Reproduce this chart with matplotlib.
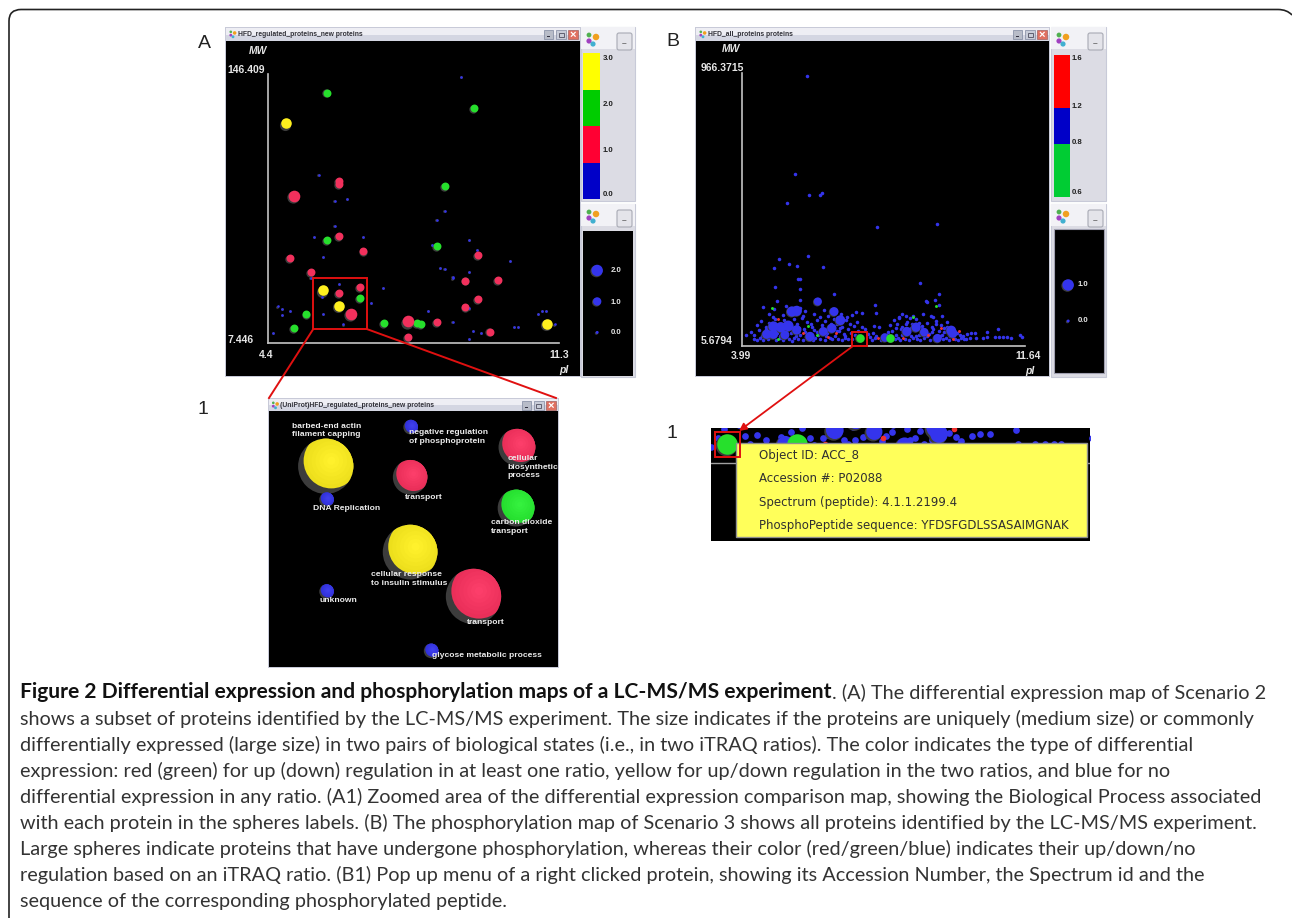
import numpy as np
import matplotlib
matplotlib.use("Agg")
import matplotlib.pyplot as plt
from matplotlib.patches import Rectangle, Circle, FancyBboxPatch, PathPatch
from matplotlib.path import Path
from matplotlib.transforms import offset_copy

W, H = 1292, 918
plt.rcParams["font.family"] = ["Liberation Sans", "DejaVu Sans"]

RED = "#f2305c"
GREEN = "#26e02c"
YELLOW = "#fff01e"
BLUE = "#3434ec"
SHADE = "#3c3c3c"

# panel A, pI and MW of each protein
a_blue_pi = [8.97, 5.59, 5.97, 6.26, 8.58, 8.39, 5.97, 5.49, 6.65, 9.16, 9.35, 8.29, 5.69, 10.13, 8.48,
             8.58, 9.16, 8.77, 8.77, 5.40, 6.07, 7.13, 5.68, 6.84, 4.62, 4.72, 4.91, 4.72, 5.69, 8.19,
             9.16, 10.80, 10.89, 10.99, 8.77, 6.17, 11.19, 10.22, 10.32, 9.26, 9.45, 4.52, 9.16]
a_blue_mw = [144.8, 94.2, 80.7, 81.9, 75.5, 71.1, 67.8, 62.3, 62.1, 60.4, 55.4, 58.1, 51.9, 49.9, 46.2,
             45.7, 44.2, 41.6, 40.7, 40.9, 38.0, 35.7, 31.2, 28.1, 26.2, 25.0, 23.8, 21.9, 22.4, 23.7,
             25.2, 22.4, 23.7, 23.7, 18.0, 16.9, 16.9, 15.7, 15.7, 13.5, 12.6, 12.3, 9.3]
a_green_pi = [5.78, 9.27, 8.59, 5.78, 8.39, 6.56, 5.30, 7.13, 7.92, 8.01, 5.01]
a_green_mw = [136.7, 128.5, 88.3, 60.4, 57.1, 30.4, 22.3, 17.6, 17.6, 16.8, 14.9]
a_red_pi = [6.07, 6.07, 6.07, 6.65, 4.91, 5.40, 6.56, 6.07, 9.36, 9.07, 9.84, 9.36, 9.07, 8.39, 9.65, 7.71]
a_red_mw = [90.8, 89.2, 62.4, 54.9, 50.9, 43.8, 36.1, 33.1, 52.6, 39.5, 39.9, 29.7, 25.7, 18.0, 13.1, 10.4]
a_redbig_pi = [5.01, 6.36, 7.71]
a_redbig_mw = [83.1, 22.1, 18.3]
a_yellow_pi = [4.82, 5.69, 6.07, 11.01]
a_yellow_mw = [120.7, 34.3, 26.2, 17.1]

# panel B
b_top_pi = [5.75, 5.42, 5.79, 6.15, 6.08, 5.21, 7.63, 9.25, 5.78, 4.99, 5.26, 5.46, 4.84, 6.17, 5.51, 5.54,
            8.81, 4.88, 5.54, 9.31, 6.48, 8.97, 8.99, 9.21, 4.93, 5.56, 9.32, 7.58, 7.61, 4.56]
b_top_mw = [956.9, 610.5, 538.9, 544.7, 536.5, 510.7, 426.1, 436.7, 323.9, 312.2, 295.8, 286.4, 281.7, 284.0,
            242.9, 240.6, 228.8, 213.5, 206.5, 187.7, 187.7, 164.2, 161.8, 166.6, 165.4, 167.7, 151.3, 151.3,
            120.8, 144.3]
b_low_pi = [4.31, 4.39, 4.47, 4.55, 4.68, 4.74, 4.90, 5.02, 5.10, 5.25, 5.33, 5.40, 5.50, 5.62, 5.71, 5.90, 5.97,
            6.08, 6.22, 6.35, 6.43, 6.58, 6.70, 6.78, 6.86, 6.97, 7.44, 7.50, 7.58, 7.75, 8.11, 8.20, 8.26, 8.38,
            8.50, 8.60, 8.73, 8.80, 8.90, 9.08, 9.18, 9.42, 9.50, 9.57, 9.75, 9.83, 9.92, 9.98, 10.03]
b_low_mw = [32, 28, 35, 27, 30, 36, 26, 33, 28, 31, 25, 34, 29, 27, 36, 28, 33, 30, 26, 35, 29, 32, 27, 34, 29, 31,
            36, 28, 33, 26, 30, 34, 27, 32, 28, 35, 30, 26, 33, 28, 32, 29, 35, 27, 31, 26, 34, 29, 32]
b_mid_pi = [4.10, 4.22, 4.30, 4.44, 4.60, 4.76, 4.95, 5.08, 5.16, 5.32, 5.55, 5.68, 5.85, 5.92, 6.05, 6.12, 6.28,
            6.50, 6.60, 6.74, 6.84, 6.92, 7.05, 7.12, 7.30, 7.38, 7.52, 7.62, 7.80, 7.92, 8.05, 8.15, 8.28, 8.36,
            8.55, 8.66, 8.78, 8.95, 9.05, 9.14, 9.30, 9.40, 9.46, 9.60, 9.80, 9.88, 9.95, 10.08]
b_mid_mw = [46, 54, 43, 62, 50, 58, 65, 48, 60, 52, 45, 56, 48, 62, 44, 58, 50, 42, 60, 48, 66, 52, 44, 58, 64, 47,
            50, 42, 46, 54, 60, 44, 66, 50, 42, 62, 46, 55, 48, 64, 58, 44, 68, 42, 52, 46, 40, 47]
b_high_pi = [4.38, 4.50, 4.62, 4.72, 4.88, 5.04, 5.12, 5.28, 5.38, 5.48, 5.60, 5.74, 5.88, 6.00, 6.14, 6.24, 6.38,
             6.46, 6.56, 6.68, 6.80, 6.90, 7.00, 7.10, 7.22, 7.55, 7.70, 8.00, 8.10, 8.18, 8.24, 8.32, 8.46, 8.58,
             8.70, 8.84, 9.00, 9.12, 9.24, 9.36, 9.52]
b_high_mw = [78, 92, 72, 88, 102, 80, 96, 74, 100, 84, 104, 90, 72, 98, 80, 92, 76, 100, 84, 72, 96, 82, 76, 90, 74,
             76, 72, 78, 96, 84, 104, 72, 90, 82, 100, 76, 88, 72, 94, 80, 74]
b_upper_pi = [4.70, 4.82, 4.86, 5.10, 5.18, 5.56, 5.64, 5.70, 5.94, 6.10, 6.20, 6.30, 6.66, 6.82, 6.96, 7.08, 7.24,
              8.22, 8.30, 8.42, 8.52, 8.62, 8.88, 9.10, 9.16, 9.40]
b_upper_mw = [118, 108, 135, 116, 145, 140, 110, 128, 120, 108, 132, 112, 120, 108, 114, 125, 122, 108, 118, 112,
              106, 110, 120, 112, 108, 110]
b_tail_pi = [10.60, 10.62, 10.92, 10.83, 10.94, 11.05, 11.14, 11.26, 11.50, 11.55, 10.49, 10.29, 10.31, 10.17, 10.15]
b_tail_mw = [56.2, 36.2, 65.6, 36.2, 36.2, 36.2, 36.2, 32.7, 44.4, 38.6, 32.7, 50.3, 32.7, 50.3, 32.7]
b_dense_pi = [4.52, 4.64, 4.78, 4.92, 5.00, 5.20, 5.36, 5.44, 5.52, 5.66, 5.78, 5.84, 6.00, 6.16, 6.26, 6.40, 6.54,
              6.64, 6.76, 8.00, 8.14, 8.30, 8.42, 8.56, 8.68, 8.76, 8.86, 9.00, 9.12, 9.22, 9.34, 9.46, 9.54, 9.70]
b_dense_mw = [40, 64, 44, 52, 40, 84, 58, 40, 70, 66, 40, 82, 54, 68, 42, 82, 60, 70, 40, 40, 70, 44, 84, 70, 42,
              86, 64, 40, 54, 84, 42, 56, 90, 36]
b_big_pi = [6.03, 5.33, 5.46, 6.47, 6.64, 4.83, 5.03, 5.23, 4.83, 4.65, 5.14, 5.46, 5.82, 6.18, 6.41, 7.85, 8.44,
            8.69, 8.91, 9.27, 9.64, 9.68]
b_big_mw = [161.9, 126.7, 129.0, 126.6, 96.1, 73.8, 71.4, 76.1, 46.8, 46.8, 44.4, 62.0, 38.6, 56.2, 67.9, 35.0, 56.2,
            71.4, 53.8, 32.7, 59.7, 50.3]
b_big_size = [38, 60, 60, 45, 55, 60, 60, 65, 50, 50, 45, 50, 50, 45, 50, 42, 50, 50, 42, 42, 55, 50]
b_green_big_pi = [7.16, 7.99]
b_green_big_mw = [35, 35]
b_green_pi = [4.80, 9.23, 8.61, 5.78, 6.02, 4.95]
b_green_mw = [138.4, 146.6, 106.7, 77.3, 44.4, 30.3]
b_red_pi = [4.96, 5.64, 6.32, 6.52, 7.67, 8.33, 9.02, 9.37, 9.70, 9.86]
b_red_mw = [100.8, 52.7, 38.6, 52.7, 32.7, 35.0, 44.4, 70.3, 30.3, 58.5]

# A1 zoomed spheres
zoom_x = [19.7, 49.0, 49.0, 86.1, 85.8, 71.0, 49.2, 20.0, 20.0, 56.3]
zoom_y = [69.0, 39.2, 65.2, 75.6, 54.5, 23.8, 82.6, 57.4, 25.5, 4.9]
zoom_r = [9.6, 9.5, 6.0, 6.4, 6.4, 9.6, 2.55, 2.55, 2.55, 2.55]
zoom_col = ["#fff01e", "#fff01e", "#fc3260", "#fc3260", "#28f032", "#fc3260", "#3434ec", "#3434ec", "#3434ec", "#3434ec"]
zoom_labels = ["barbed-end actin\nfilament capping", "negative regulation\nof phosphoprotein",
               "cellular\nbiosynthetic\nprocess", "transport", "DNA Replication", "carbon dioxide\ntransport",
               "cellular response\nto insulin stimulus", "unknown", "transport", "glycose metabolic process"]
zoom_lab_x = [8.1, 48.7, 82.7, 47.3, 15.4, 77.1, 35.5, 17.6, 68.7, 56.5]
zoom_lab_y = [81.4, 79.1, 68.6, 58.1, 54.2, 47.9, 29.9, 22.3, 14.6, 3.4]

# colour bars
a_bar_heights = [1, 1, 1, 1]
a_bar_colors = ["#0000c8", "#ff0033", "#00cc00", "#ffff00"]
b_bar_heights = [3, 2, 3]
b_bar_colors = ["#00cc33", "#0000c8", "#ff0000"]

tooltip_lines = ["Object ID: ACC_8", "Accession #: P02088", "Spectrum (peptide): 4.1.1.2199.4",
                 "PhosphoPeptide sequence: YFDSFGDLSSASAIMGNAK"]

caption = [
    "shows a subset of proteins identified by the LC-MS/MS experiment. The size indicates if the proteins are uniquely (medium size) or commonly",
    "differentially expressed (large size) in two pairs of biological states (i.e., in two iTRAQ ratios). The color indicates the type of differential",
    "expression: red (green) for up (down) regulation in at least one ratio, yellow for up/down regulation in the two ratios, and blue for no",
    "differential expression in any ratio. (A1) Zoomed area of the differential expression comparison map, showing the Biological Process associated",
    "with each protein in the spheres labels. (B) The phosphorylation map of Scenario 3 shows all proteins identified by the LC-MS/MS experiment.",
    "Large spheres indicate proteins that have undergone phosphorylation, whereas their color (red/green/blue) indicates their up/down/no",
    "regulation based on an iTRAQ ratio. (B1) Pop up menu of a right clicked protein, showing its Accession Number, the Spectrum id and the",
    "sequence of the corresponding phosphorylated peptide.",
]

fig = plt.figure(figsize=(W / 100, H / 100), dpi=100, facecolor="white")


def overlay(z):
    ax = fig.add_axes([0, 0, 1, 1], zorder=z)
    ax.set_xlim(0, W)
    ax.set_ylim(H, 0)
    ax.axis("off")
    return ax


def px_axes(x0, y0, x1, y1, z=2):
    ax = fig.add_axes([x0 / W, 1 - y1 / H, (x1 - x0) / W, (y1 - y0) / H], zorder=z)
    ax.patch.set_alpha(0)
    return ax


bg = overlay(0)
top = overlay(6)


def txt(x, y, s, ax=top, **kw):
    kw.setdefault("va", "center")
    kw.setdefault("ha", "left")
    kw.setdefault("color", "#e6e6e6")
    return ax.text(x, y, s, **kw)


def rect(x0, y0, x1, y1, color, ax=bg, **kw):
    ax.add_patch(Rectangle((x0, y0), x1 - x0, y1 - y0, facecolor=color, edgecolor=kw.pop("ec", "none"), **kw))


def icon(x, y, k=1.0):
    bg.scatter([x - 4 * k, x + 3 * k, x - 4 * k, x], [y + 3 * k, y - k, y - 3 * k, y + 6 * k],
               s=np.array([14, 22, 12, 14]) * k * k,
               c=["#a040c0", "#f0a020", "#50b050", "#40b0d0"], linewidths=0, clip_on=False)


def window(x0, y0, x1, y1, title, bar=14):
    rect(x0 - 1, y0, x1 + 1, y1 + 1, "#c8cad8")
    rect(x0, y0 + 1, x1, y0 + bar * 0.55, "#eeeef4")
    rect(x0, y0 + bar * 0.55, x1, y0 + bar, "#d4d6e2")
    rect(x0, y0 + bar, x1, y1, "black")
    icon(x0 + 7, y0 + 6.5, 0.55)
    txt(x0 + 12, y0 + 7.5, title, ax=bg, fontsize=4.9, fontweight="bold", color="#303038")
    rect(x1 - 36, y0 + 3, x1 - 27, y0 + 12, "#b8bcc8", ec="#8088a0", linewidth=0.5)
    rect(x1 - 24, y0 + 3, x1 - 14, y0 + 12, "#c8ccd8", ec="#8088a0", linewidth=0.5)
    rect(x1 - 12, y0 + 3, x1 - 2, y0 + 12, "#e07060", ec="#a06060", linewidth=0.5)
    rect(x1 - 33, y0 + 9, x1 - 30, y0 + 10.2, "#303040")
    rect(x1 - 21.5, y0 + 5.5, x1 - 16.5, y0 + 10, "none", ec="#606070", linewidth=0.7)
    txt(x1 - 7, y0 + 7.5, "×", ax=bg, fontsize=8, ha="center", color="white", fontweight="bold")


def side(x0, y0, x1, y1):
    rect(x0, y0, x1, y1, "#dcdce4", ec="#c8cad8", linewidth=0.8)
    rect(x0, y0, x1, y0 + 22, "#f2f2f6")
    icon(x0 + 12, y0 + 11)
    bg.add_patch(FancyBboxPatch((x1 - 18, y0 + 6), 15, 17, boxstyle="round,pad=0,rounding_size=2",
                                facecolor="#e4e4ea", edgecolor="#a8aab4", linewidth=0.8))
    txt(x1 - 10.5, y0 + 17, "–", ax=bg, fontsize=6, ha="center", color="#606060", fontweight="bold")


def spheres(ax, x, y, color, s, shade=1.0):
    # dark underside first, lit part slightly up and right
    s = np.asarray(s, dtype=float)
    tr = offset_copy(ax.transData, fig=fig, x=-shade * 0.6, y=-shade * 0.6, units="dots")
    ax.scatter(x, y, s=s, c=SHADE, linewidths=0, transform=tr, clip_on=False, zorder=3)
    tr = offset_copy(ax.transData, fig=fig, x=shade * 0.2, y=shade * 0.2, units="dots")
    ax.scatter(x, y, s=s * 0.9, c=color, linewidths=0, transform=tr, clip_on=False, zorder=4)


def map_axes(box, xlim, ylim):
    ax = px_axes(*box)
    ax.set_xlim(*xlim)
    ax.set_ylim(*ylim)
    for sp in ("top", "right"):
        ax.spines[sp].set_visible(False)
    for sp in ("left", "bottom"):
        ax.spines[sp].set_color("#c4c4c4")
        ax.spines[sp].set_linewidth(1.2)
    ax.set_xticks([])
    ax.set_yticks([])
    return ax


# frame round the whole figure
frame = Path([(9, H + 2), (9, 21), (9, 9.5), (21, 9.5), (1278, 9.5), (1287, 9.5), (1292, 15)],
             [Path.MOVETO, Path.LINETO, Path.CURVE3, Path.CURVE3, Path.LINETO, Path.CURVE3, Path.CURVE3])
bg.add_patch(PathPatch(frame, facecolor="none", edgecolor="#222222", linewidth=1.2))

# panel A
window(226, 27, 580, 376, "HFD_regulated_proteins_new proteins")
side(581, 27, 635, 201)
side(581, 204, 635, 377)
rect(583, 231, 633, 376, "black")

ax_a = map_axes((268.3, 74, 559.3, 342.7), (4.4, 11.3), (7.446, 146.409))
spheres(ax_a, a_blue_pi, a_blue_mw, BLUE, 4.0, 0.3)
spheres(ax_a, a_green_pi, a_green_mw, GREEN, 36)
spheres(ax_a, a_red_pi, a_red_mw, RED, 36)
spheres(ax_a, a_redbig_pi, a_redbig_mw, RED, 78, 1.6)
spheres(ax_a, a_yellow_pi, a_yellow_mw, YELLOW, 64, 1.6)

txt(258, 50.5, "MW", style="italic", fontweight="bold", fontsize=7.5, ha="center")
txt(227.5, 70, "146.409", fontweight="bold", fontsize=7.5)
txt(227.5, 340, "7.446", fontweight="bold", fontsize=7.5)
txt(265.7, 355, "4.4", fontweight="bold", fontsize=7.5, ha="center")
txt(559, 355, "11.3", fontweight="bold", fontsize=7.5, ha="center")
txt(564, 370, "pI", style="italic", fontweight="bold", fontsize=7.5, ha="center")

ax_ca = px_axes(583.3, 53.3, 600, 199)
ax_ca.bar(0, a_bar_heights, bottom=np.cumsum([0] + a_bar_heights[:-1]), width=1, color=a_bar_colors)
ax_ca.set_xlim(-0.5, 0.5)
ax_ca.set_ylim(0, sum(a_bar_heights))
ax_ca.axis("off")
for lab, y in zip(["3.0", "2.0", "1.0", "0.0"], [58.7, 104, 150, 195]):
    txt(603, y, lab, fontsize=5.6, fontweight="bold", color="#202020")

ax_sa = px_axes(583, 231, 633, 376)
ax_sa.set_xlim(0, 1)
ax_sa.set_ylim(-1.4, 3.28)
ax_sa.axis("off")
spheres(ax_sa, [0.28, 0.28, 0.28], [2.0, 1.0, 0.0], BLUE, [75, 40, 5])
for lab, y in zip(["2.0", "1.0", "0.0"], [270.7, 302.7, 332]):
    txt(611, y, lab, fontsize=5.6, fontweight="bold")

# panel B
window(696, 27, 1049, 376, "HFD_all_proteins proteins")
side(1051, 27, 1106, 201)
side(1051, 204, 1106, 377)
rect(1054, 229, 1104, 373, "black", ec="#a0a0b0", linewidth=0.8)

ax_b = map_axes((742.3, 73.3, 1025, 346), (3.99, 11.64), (5.68, 966.37))
b_small_pi = np.concatenate([b_top_pi, b_low_pi, b_mid_pi, b_high_pi, b_upper_pi, b_tail_pi, b_dense_pi])
b_small_mw = np.concatenate([b_top_mw, b_low_mw, b_mid_mw, b_high_mw, b_upper_mw, b_tail_mw, b_dense_mw])


def draw_b(ax, k_small=1.0, k_big=1.0, k_green=1.0):
    ax.scatter(b_small_pi, b_small_mw, s=6.5 * k_small ** 2, c=BLUE, linewidths=0, zorder=3)
    spheres(ax, b_big_pi, b_big_mw, BLUE, np.array(b_big_size) * k_big ** 2, 0.8 * k_big)
    spheres(ax, b_green_big_pi, b_green_big_mw, GREEN, 42 * k_green ** 2, 0.8 * k_green)
    ax.scatter(b_green_pi, b_green_mw, s=4.5 * k_small ** 2, c=GREEN, linewidths=0, zorder=5)
    ax.scatter(b_red_pi, b_red_mw, s=4.5 * k_small ** 2, c="#f03030", linewidths=0, zorder=5)


draw_b(ax_b)

txt(730.7, 49, "MW", style="italic", fontweight="bold", fontsize=7.5, ha="center")
txt(701, 68.3, "966.3715", fontweight="bold", fontsize=7.5)
txt(701, 341, "5.6794", fontweight="bold", fontsize=7.5)
txt(741, 356, "3.99", fontweight="bold", fontsize=7.5, ha="center")
txt(1028, 356, "11.64", fontweight="bold", fontsize=7.5, ha="center")
txt(1030, 371, "pI", style="italic", fontweight="bold", fontsize=7.5, ha="center")

ax_cb = px_axes(1054.3, 54.7, 1070, 197)
ax_cb.bar(0, b_bar_heights, bottom=np.cumsum([0] + b_bar_heights[:-1]), width=1, color=b_bar_colors)
ax_cb.set_xlim(-0.5, 0.5)
ax_cb.set_ylim(0, sum(b_bar_heights))
ax_cb.axis("off")
for lab, y in zip(["1.6", "1.2", "0.8", "0.6"], [58.7, 107, 142, 192]):
    txt(1072, y, lab, fontsize=5.6, fontweight="bold", color="#202020")

ax_sb = px_axes(1054, 229, 1104, 373)
ax_sb.set_xlim(0, 1)
ax_sb.set_ylim(-1.44, 2.56)
ax_sb.axis("off")
spheres(ax_sb, [0.28, 0.28], [1.0, 0.0], BLUE, [75, 5])
for lab, y in zip(["1.0", "0.0"], [285, 321]):
    txt(1078, y, lab, fontsize=5.6, fontweight="bold")

# A1 window
window(268.5, 398, 557.5, 666.5, "(UniProt)HFD_regulated_proteins_new proteins", bar=13)
ax_z = px_axes(269, 411, 557, 665)
ax_z.set_xlim(0, 100)
ax_z.set_ylim(0, 88.2)
ax_z.axis("off")
for x, y, r, col in zip(zoom_x, zoom_y, zoom_r, zoom_col):
    outer = Circle((x, y), r, facecolor=SHADE, edgecolor="none", zorder=3)
    ax_z.add_patch(outer)
    c0 = np.array(matplotlib.colors.to_rgb(col))
    for k, frac in enumerate(np.linspace(1.0, 0.15, 7)):
        c = c0 * (0.93 + 0.07 * k / 6) + (1 - c0) * 0.06 * k / 6
        disc = Circle((x + 0.2 * r, y + 0.2 * r), r * frac, facecolor=np.clip(c, 0, 1), edgecolor="none", zorder=4)
        ax_z.add_patch(disc)
        disc.set_clip_path(outer)
for lab, x, y in zip(zoom_labels, zoom_lab_x, zoom_lab_y):
    ax_z.text(x, y, lab, color="#ececec", fontsize=6.1, fontweight="bold", va="center", ha="left",
              zorder=6, linespacing=1.3)

# B1 pop up
ax_i = px_axes(711, 428, 1090, 541)
ax_i.set_facecolor("black")
ax_i.patch.set_alpha(1)
ax_i.set_xlim(6.97, 11.48)
ax_i.set_ylim(-113, 60)
ax_i.set_xticks([])
ax_i.set_yticks([])
for sp in ax_i.spines.values():
    sp.set_visible(False)
ax_i.axhline(5.68, color="#a0a0a0", linewidth=1)
draw_b(ax_i, 1.9, 1.9, 2.4)
for c in ax_i.collections:
    c.set_clip_on(True)
top.add_patch(Rectangle((735.7, 443), 351.3, 94, facecolor="#ffff5a", edgecolor="#909090", linewidth=1))
for lab, y in zip(tooltip_lines, [455.7, 479, 502.7, 525]):
    txt(759, y, lab, fontsize=8.5, color="#303030", family=["DejaVu Sans"])

# red selection boxes and connectors
top.add_patch(Rectangle((313.3, 278.3), 53.4, 50.7, facecolor="none", edgecolor="#e01010", linewidth=1.4))
top.plot([313.3, 269], [329, 398], color="#e01010", linewidth=1.4)
top.plot([366.7, 556], [329, 398], color="#e01010", linewidth=1.4)
top.add_patch(Rectangle((852, 331.7), 14.7, 14.3, facecolor="none", edgecolor="#e01010", linewidth=1.4))
top.add_patch(Rectangle((714.7, 432.3), 25.3, 25, facecolor="none", edgecolor="#e01010", linewidth=1.4))
top.annotate("", xy=(739, 431), xytext=(853, 346),
             arrowprops=dict(arrowstyle="-|>", color="#e01010", linewidth=1.3, mutation_scale=11, shrinkA=0, shrinkB=0))

# panel letters
for lab, x, y in [("A", 204, 44), ("B", 673, 42), ("1", 203, 410), ("1", 672, 433)]:
    txt(x, y, lab, fontsize=14, color="#222222", ha="center")

# caption
cap_font = dict(family=["Lato", "DejaVu Sans"], fontsize=14.3, color="#333333", va="baseline")
head = txt(20, 698.5, "Figure 2 Differential expression and phosphorylation maps of a LC-MS/MS experiment",
           fontweight="bold", **{**cap_font, "color": "#111111", "fontsize": 15.1})
fig.canvas.draw()
x_end = head.get_window_extent(fig.canvas.get_renderer()).x1
txt(x_end, 698.5, ". (A) The differential expression map of Scenario 2", **cap_font)
for i, line in enumerate(caption):
    txt(20, 698.5 + 26.1 * (i + 1), line, **cap_font)

fig.savefig("out.png", dpi=100)
